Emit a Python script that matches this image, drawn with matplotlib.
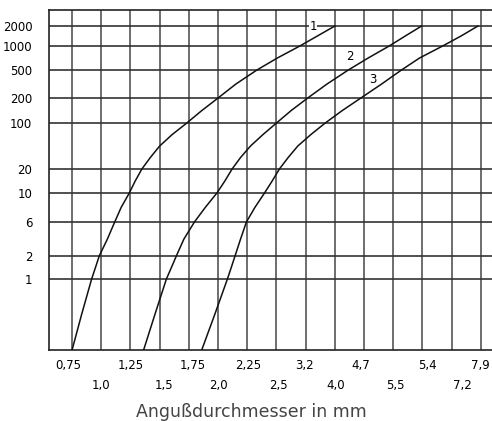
import numpy as np
import matplotlib.pyplot as plt
import matplotlib.transforms as mtransforms

# Y axis of the nomogram is not a clean log scale: tick values and where they sit
y_ticks = [1, 2, 6, 10, 20, 100, 200, 500, 1000, 2000]
y_tick_pos = [71, 94, 128, 157, 181, 227, 252, 280, 304, 324]

# X axis: one column per printed diameter (two staggered label rows)
x_labels = ["0,75", "1,0", "1,25", "1,5", "1,75", "2,0", "2,25", "2,5",
            "3,2", "4,0", "4,7", "5,5", "5,4", "7,2", "7,9"]
x_label_shift = [-4, 0, 0, 4, 4, 0, 1, 2, -1, 1, -3, 2, 5, 11, -1]  # px

# curves: y values shared, x in column index
curve_y = [0.1, 0.32, 1, 1.41, 2, 3.46, 6, 7.75, 10, 14.1, 20, 29.9, 44.7, 66.9,
           100, 141, 200, 316, 500, 707, 1000, 1414, 2000]
c1_x = [0.0, 0.33, 0.67, 0.80, 0.93, 1.21, 1.46, 1.68, 1.96, 2.16, 2.39, 2.68,
        3.0, 3.43, 3.93, 4.44, 5.0, 5.61, 6.33, 7.03, 7.80, 8.40, 9.0]
c2_x = [2.45, 2.84, 3.23, 3.40, 3.57, 3.83, 4.19, 4.56, 4.96, 5.23, 5.48, 5.77,
        6.11, 6.54, 7.0, 7.5, 8.07, 8.73, 9.46, 10.14, 10.86, 11.41, 11.97]
c3_x = [4.44, 4.89, 5.32, 5.45, 5.58, 5.77, 5.97, 6.26, 6.59, 6.85, 7.10, 7.40,
        7.73, 8.18, 8.67, 9.25, 9.89, 10.60, 11.28, 11.90, 12.69, 13.32, 13.90]

# scale knots (log10 value -> vertical position)
knot_v = np.log10([0.1] + y_ticks + [3500])
knot_p = np.array([0] + y_tick_pos + [340], dtype=float)


def fwd(v):
    v = np.clip(np.asarray(v, dtype=float), 1e-6, None)
    return np.interp(np.log10(v), knot_v, knot_p)


def inv(p):
    return 10 ** np.interp(p, knot_p, knot_v)


fig = plt.figure(figsize=(4.92, 4.21), dpi=100)
ax = fig.add_axes([49 / 492, 1 - 350 / 421, 1 - 49 / 492, 340 / 421])
ax.set_yscale('function', functions=(fwd, inv))
ax.set_ylim(0.1, 3500)
ax.set_xlim(-0.79, 14.38)

ax.spines['right'].set_visible(False)
for s in ['left', 'bottom', 'top']:
    ax.spines[s].set_linewidth(1.2)
    ax.spines[s].set_color('#222222')

xs = np.arange(len(x_labels))
for x in xs:
    ax.axvline(x, color='#555555', lw=1.2, zorder=1)
for y in y_ticks:
    ax.axhline(y, color='#333333', lw=1.2, zorder=1)

ax.set_yticks(y_ticks)
ax.set_yticklabels([str(v) for v in y_ticks])
ax.yaxis.set_minor_locator(plt.NullLocator())
ax.tick_params(axis='y', length=0, pad=12, labelsize=8.5)
ax.set_xticks([])

trans = mtransforms.blended_transform_factory(ax.transData, ax.transAxes)
for i, lab in enumerate(x_labels):
    yy = -0.047 if i % 2 == 0 else -0.103
    off = mtransforms.offset_copy(trans, fig=fig, x=x_label_shift[i], units='dots')
    ax.text(xs[i], yy, lab, transform=off, ha='center', va='center',
            fontsize=8.5)

ax.text(0.456, -0.183, "Angußdurchmesser in mm", transform=ax.transAxes,
        ha='center', va='center', fontsize=12.5, color='#444444')

for cx in [c1_x, c2_x, c3_x]:
    ax.plot(cx, curve_y, color='#111111', lw=1.1, zorder=3)

lab_box = dict(facecolor='white', edgecolor='none', pad=0.5)
ax.text(8.25, 2000, "1", ha='center', va='center', fontsize=8.5, bbox=lab_box, zorder=4)
ax.text(9.5, 740, "2", ha='center', va='center', fontsize=8.5, bbox=lab_box, zorder=4)
ax.text(10.3, 370, "3", ha='center', va='center', fontsize=8.5, bbox=lab_box, zorder=4)

fig.savefig('out.png', dpi=100)
